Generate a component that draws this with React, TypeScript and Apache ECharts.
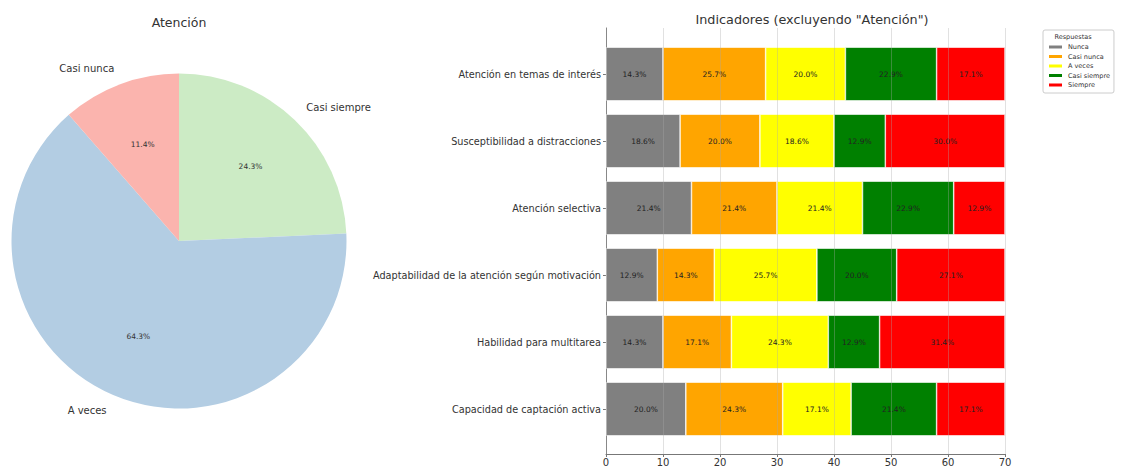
import React, { useEffect, useRef } from "react";
import * as echarts from "echarts";

const pieTitle = "Atención";
const pieNames = ["Casi siempre", "A veces", "Casi nunca"];
const pieCounts = [17, 45, 8];
const pieColors = ["#ccebc5", "#b3cde3", "#fbb4ae"];

const barTitle = 'Indicadores (excluyendo "Atención")';
const indicators = [
  "Atención en temas de interés",
  "Susceptibilidad a distracciones",
  "Atención selectiva",
  "Adaptabilidad de la atención según motivación",
  "Habilidad para multitarea",
  "Capacidad de captación activa",
];
const responses = ["Nunca", "Casi nunca", "A veces", "Casi siempre", "Siempre"];
const nunca = [10, 13, 15, 9, 10, 14];
const casiNunca = [18, 14, 15, 10, 12, 17];
const aVeces = [14, 13, 15, 18, 17, 12];
const casiSiempre = [16, 9, 16, 14, 9, 15];
const siempre = [12, 21, 9, 19, 22, 12];
const barColors = ["#808080", "#ffa500", "#ffff00", "#008000", "#ff0000"];
const xMin = 0;
const xMax = 70;
const xStep = 10;
const legendTitle = "Respuestas";

const FONT = "DejaVu Sans";

export default function App() {
  const ref = useRef<HTMLDivElement>(null);
  useEffect(() => {
    if (!ref.current) return;
    const chart = echarts.init(ref.current, null, { renderer: "svg" });
    const seriesValues = [nunca, casiNunca, aVeces, casiSiempre, siempre];
    const rowTotals = indicators.map((_, i) =>
      seriesValues.reduce((s, arr) => s + arr[i], 0)
    );
    const pieR = 167.5;
    const cx = 179;
    const cy = 241;
    const option: any = {
      animation: false,
      textStyle: { fontFamily: FONT },
      graphic: [
        {
          type: "text",
          x: cx,
          y: 22,
          style: { text: pieTitle, fontSize: 12.5, fontFamily: FONT, fill: "#333", align: "center", verticalAlign: "middle" },
        },
        {
          type: "text",
          x: 812,
          y: 19,
          style: { text: barTitle, fontSize: 12.8, fontFamily: FONT, fill: "#333", align: "center", verticalAlign: "middle" },
        },
        {
          type: "text",
          x: 1073,
          y: 37,
          z: 100,
          style: { text: legendTitle, fontSize: 6.5, fontFamily: FONT, fill: "#333", align: "center", verticalAlign: "middle" },
        },
      ],
      legend: {
        data: responses,
        orient: "vertical",
        left: 1043,
        top: 30,
        padding: [13, 4, 4, 4],
        itemWidth: 15,
        itemHeight: 5,
        itemGap: 1.5,
        icon: "rect",
        borderColor: "#cccccc",
        borderWidth: 1,
        borderRadius: 2,
        textStyle: { fontSize: 6.5, fontFamily: FONT, color: "#333", lineHeight: 8 },
      },
      grid: [
        { left: 606, right: 126, top: 40.5, height: 402, containLabel: false },
        { left: 606, right: 126, top: 28, height: 426, containLabel: false },
      ],
      xAxis: [
        { type: "value", gridIndex: 0, min: xMin, max: xMax, interval: xStep, show: false },
        {
          type: "value",
          gridIndex: 1,
          min: xMin,
          max: xMax,
          interval: xStep,
          z: 5,
          axisLine: { show: true, lineStyle: { color: "#777", width: 1 } },
          axisTick: { show: true, length: 3, lineStyle: { color: "#777" } },
          axisLabel: { fontSize: 10, fontFamily: FONT, color: "#333", margin: 3 },
          splitLine: { show: true, lineStyle: { color: "rgba(170,170,170,0.35)", width: 1 } },
        },
      ],
      yAxis: [
        {
          type: "category",
          gridIndex: 0,
          data: indicators,
          inverse: true,
          axisLine: { show: false },
          axisTick: { show: true, alignWithLabel: true, length: 3, lineStyle: { color: "#777" } },
          axisLabel: { fontSize: 9.7, fontFamily: FONT, color: "#333", margin: 5 },
          splitLine: { show: false },
        },
        {
          type: "value",
          gridIndex: 1,
          min: 0,
          max: 1,
          axisLine: { show: true, onZero: false, lineStyle: { color: "#777", width: 1 } },
          axisTick: { show: false },
          axisLabel: { show: false },
          splitLine: { show: false },
        },
      ],
      series: [
        {
          type: "pie",
          name: "pie",
          center: [cx, cy],
          radius: [0, pieR],
          startAngle: 90,
          clockwise: true,
          avoidLabelOverlap: false,
          silent: true,
          percentPrecision: 1,
          data: pieNames.map((n, i) => ({ name: n, value: pieCounts[i], itemStyle: { color: pieColors[i] } })),
          label: {
            show: true,
            position: "outside",
            formatter: "{b}",
            fontSize: 10,
            fontFamily: FONT,
            color: "#333",
            distanceToLabelLine: 0,
          },
          labelLine: { show: false, length: pieR * 0.1, length2: 0 },
        },
        {
          type: "pie",
          name: "piePct",
          center: [cx, cy],
          radius: [pieR * 0.2, pieR],
          startAngle: 90,
          clockwise: true,
          avoidLabelOverlap: false,
          silent: true,
          z: 3,
          percentPrecision: 1,
          data: pieNames.map((n, i) => ({ name: n, value: pieCounts[i], itemStyle: { color: "rgba(0,0,0,0)" } })),
          label: {
            show: true,
            position: "inside",
            formatter: "{d}%",
            fontSize: 7.5,
            fontFamily: FONT,
            color: "#333",
          },
          labelLine: { show: false },
        },
        ...responses.map((r, si) => ({
          type: "bar",
          name: r,
          stack: "total",
          xAxisIndex: 0,
          yAxisIndex: 0,
          barWidth: "80%",
          itemStyle: { color: barColors[si], borderColor: "#ffffff", borderWidth: 0.6 },
          data: seriesValues[si],
          label: {
            show: true,
            position: "inside",
            fontSize: 7.5,
            fontFamily: FONT,
            color: "#222",
            formatter: (p: any) => ((p.value / rowTotals[p.dataIndex]) * 100).toFixed(1) + "%",
          },
        })),
      ],
    };
    chart.setOption(option);
    return () => chart.dispose();
  }, []);
  return (
    <div
      ref={ref}
      style={{ position: "fixed", left: 0, top: 0, width: 1131, height: 468, background: "#fff" }}
    />
  );
}
